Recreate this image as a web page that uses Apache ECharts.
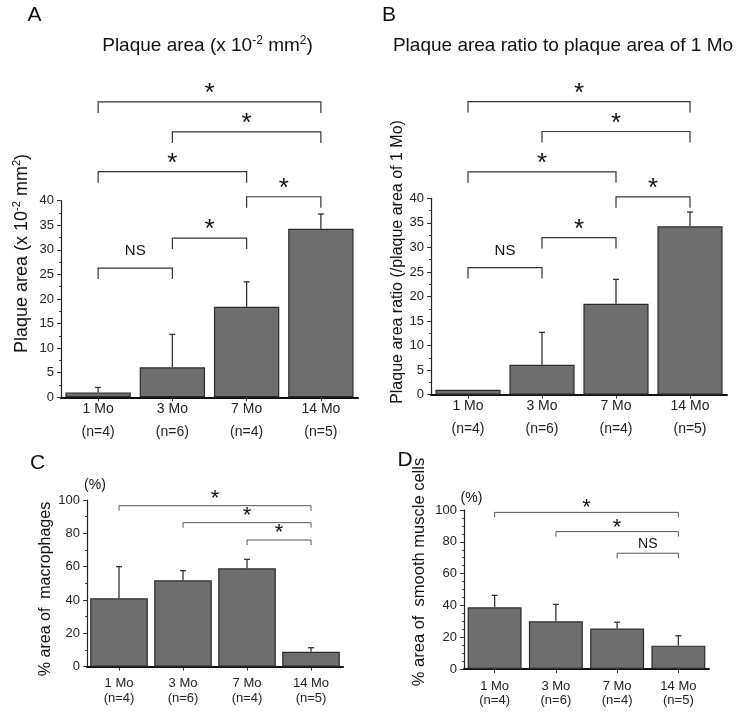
<!DOCTYPE html>
<html><head><meta charset="utf-8">
<script src="https://cdn.jsdelivr.net/npm/echarts@6/dist/echarts.min.js"></script>
<style>html,body{margin:0;padding:0;background:#fff}#c{width:740px;height:713px}</style>
</head><body><div id="c"></div>
<script>
// ---- data ----
const categories = ['1 Mo', '3 Mo', '7 Mo', '14 Mo'];
const nLabels = ['(n=4)', '(n=6)', '(n=4)', '(n=5)'];
const plaqueArea = [1.0, 6.1, 18.4, 34.3];
const plaqueAreaErr = [1.0, 6.7, 5.1, 3.0];
const plaqueRatio = [1.0, 6.1, 18.5, 34.3];
const plaqueRatioErr = [0, 6.6, 5.0, 2.9];
const macrophage = [41.0, 51.8, 59.0, 9.0];
const macrophageErr = [19.0, 5.8, 5.4, 2.4];
const smc = [38.8, 30.0, 25.4, 14.7];
const smcErr = [7.5, 10.7, 4.0, 6.2];
// brackets: [fromIndex, toIndex, height]
const bracketsA = [[0, 3, 60.1], [1, 3, 54.0], [0, 2, 45.9], [2, 3, 40.8], [0, 1, 26.3], [1, 2, 32.4]];
const bracketLabelsA = ['*', '*', '*', '*', 'NS', '*'];
const bracketsB = [[0, 3, 59.7], [1, 3, 53.6], [0, 2, 45.4], [2, 3, 40.3], [0, 1, 25.9], [1, 2, 32.0]];
const bracketLabelsB = ['*', '*', '*', '*', 'NS', '*'];
const bracketsC = [[0, 3, 96.6], [1, 3, 86.4], [2, 3, 76.0]];
const bracketLabelsC = ['*', '*', '*'];
const bracketsD = [[0, 3, 98.5], [1, 3, 86.4], [2, 3, 72.8]];
const bracketLabelsD = ['*', '*', 'NS'];

const FONT = 'Liberation Sans, Arial, Helvetica, sans-serif';
const chart = echarts.init(document.getElementById('c'), null, {renderer: 'canvas'});

function grid(left, top, width, height) { return {left, top, width, height}; }

function xAxis(gi, fs, lh, margin) {
  return {
    type: 'category', gridIndex: gi, data: categories,
    axisLine: {lineStyle: {color: '#111', width: 2}},
    axisTick: {show: true, alignWithLabel: true, length: 4, lineStyle: {color: '#333', width: 1}},
    axisLabel: {
      formatter: (v, i) => v + '\n' + nLabels[i],
      fontSize: fs, lineHeight: lh, margin: margin, color: '#222', fontFamily: FONT
    },
    splitLine: {show: false}
  };
}
function yAxis(gi, max, interval, minorSplit) {
  return {
    type: 'value', gridIndex: gi, min: 0, max: max, interval: interval,
    axisLine: {show: true, lineStyle: {color: '#222', width: 1.2}},
    axisTick: {show: true, length: 4, lineStyle: {color: '#333', width: 1}},
    minorTick: {show: true, splitNumber: minorSplit, length: 2, lineStyle: {color: '#444', width: 1}},
    splitLine: {show: false}, minorSplitLine: {show: false},
    axisLabel: {fontSize: 13, color: '#222', margin: 7, fontFamily: FONT}
  };
}
function bars(gi, vals, width) {
  return {
    type: 'bar', xAxisIndex: gi, yAxisIndex: gi, data: vals, barWidth: width,
    itemStyle: {color: '#6e6e6e', borderColor: '#2a2a2a', borderWidth: 1.2},
    silent: true, z: 2
  };
}
function errors(gi, vals, errs) {
  return {
    type: 'custom', xAxisIndex: gi, yAxisIndex: gi, z: 3, silent: true,
    data: vals.map((v, i) => [i, v, errs[i]]),
    encode: {x: 0, y: 1},
    renderItem: function (params, api) {
      const i = api.value(0), v = api.value(1), e = api.value(2);
      if (!e) return null;
      const b = api.coord([i, v]);
      const t = api.coord([i, v + e]);
      const st = {stroke: '#333', lineWidth: 1.3};
      return {type: 'group', children: [
        {type: 'line', shape: {x1: b[0], y1: b[1], x2: t[0], y2: t[1]}, style: st},
        {type: 'line', shape: {x1: t[0] - 3, y1: t[1], x2: t[0] + 3, y2: t[1]}, style: st}
      ]};
    }
  };
}
function brackets(gi, data, labels, opt) {
  return {
    type: 'custom', xAxisIndex: gi, yAxisIndex: gi, z: 4, silent: true, clip: false,
    data: data, encode: {x: [0, 1], y: 2},
    renderItem: function (params, api) {
      const a = api.coord([api.value(0), api.value(2)]);
      const b = api.coord([api.value(1), api.value(2)]);
      const lab = labels[params.dataIndex];
      const isNS = lab === 'NS';
      const ty = a[1] - (isNS ? opt.nsDy : opt.starDy);
      return {type: 'group', children: [
        {type: 'polyline', shape: {points: [[a[0], a[1] + opt.leg], [a[0], a[1]], [b[0], b[1]], [b[0], b[1] + opt.leg]]},
         style: {stroke: opt.color, lineWidth: opt.lw, fill: null}},
        {type: 'text', x: (a[0] + b[0]) / 2, y: ty,
         style: {text: lab, fill: '#111', fontFamily: FONT,
                 fontSize: isNS ? opt.nsSize : opt.starSize,
                 align: 'center', verticalAlign: 'middle', textAlign: 'center', textVerticalAlign: 'middle'}}
      ]};
    }
  };
}
function txt(x, y, text, size, rot, rich) {
  const el = {type: 'text', x: x, y: y, silent: true,
    style: {text: text, fill: '#111', fontFamily: FONT, fontSize: size,
            align: 'center', verticalAlign: 'middle', textAlign: 'center', textVerticalAlign: 'middle'}};
  if (rot) el.rotation = rot;
  if (rich) el.style.rich = rich;
  return el;
}
const supRich = (fs, lh) => ({
  sup: {fontSize: Math.round(fs * 0.62), verticalAlign: 'top', lineHeight: Math.round(fs * 0.62), fontFamily: FONT, fill: '#111'},
  n: {fontSize: fs, lineHeight: lh, fontFamily: FONT, fill: '#111'}
});

const option = {
  animation: false,
  backgroundColor: '#fff',
  textStyle: {fontFamily: FONT},
  grid: [grid(61, 200.7, 297, 196.6), grid(431, 198.3, 296, 196.4), grid(87, 500, 256, 166.7), grid(464, 510, 245, 159)],
  xAxis: [xAxis(0, 14, 23, 0), xAxis(1, 14, 23, 0), xAxis(2, 13, 15, 9), xAxis(3, 13, 14, 10)],
  yAxis: [yAxis(0, 40, 5, 2), yAxis(1, 40, 5, 2), yAxis(2, 100, 20, 2), yAxis(3, 100, 20, 4)],
  series: [
    bars(0, plaqueArea, '88%'), errors(0, plaqueArea, plaqueAreaErr),
    brackets(0, bracketsA, bracketLabelsA, {leg: 11, color: '#333', lw: 1.2, starDy: 7.9, nsDy: 16.7, starSize: 26, nsSize: 15}),
    bars(1, plaqueRatio, '88%'), errors(1, plaqueRatio, plaqueRatioErr),
    brackets(1, bracketsB, bracketLabelsB, {leg: 11, color: '#333', lw: 1.2, starDy: 7.9, nsDy: 16.7, starSize: 26, nsSize: 15}),
    bars(2, macrophage, '90%'), errors(2, macrophage, macrophageErr),
    brackets(2, bracketsC, bracketLabelsC, {leg: 5, color: '#555', lw: 1, starDy: 6.8, nsDy: 9.3, starSize: 22, nsSize: 14}),
    bars(3, smc, '88%'), errors(3, smc, smcErr),
    brackets(3, bracketsD, bracketLabelsD, {leg: 5, color: '#555', lw: 1, starDy: 4.1, nsDy: 9.3, starSize: 22, nsSize: 14})
  ],
  graphic: [
    txt(34.5, 15, 'A', 21),
    txt(389, 15, 'B', 21),
    txt(37.5, 463, 'C', 21),
    txt(405, 460, 'D', 21),
    txt(207.5, 46, '{n|Plaque area (x 10}{sup|-2}{n| mm}{sup|2}{n|)}', 19, 0, supRich(19, 22)),
    txt(563, 46, 'Plaque area ratio to plaque area of 1 Mo', 19),
    txt(22, 253.5, '{n|Plaque area (x 10}{sup|-2}{n| mm}{sup|2}{n|)}', 18, Math.PI / 2, supRich(18, 21)),
    txt(398, 262, 'Plaque area ratio (/plaque area of 1 Mo)', 16, Math.PI / 2),
    txt(46, 589, '% area of  macrophages', 16, Math.PI / 2),
    txt(419, 572, '% area of  smooth muscle cells', 16.5, Math.PI / 2),
    txt(95, 485, '(%)', 14),
    txt(471.5, 498, '(%)', 14)
  ]
};
chart.setOption(option);
</script>
</body></html>
